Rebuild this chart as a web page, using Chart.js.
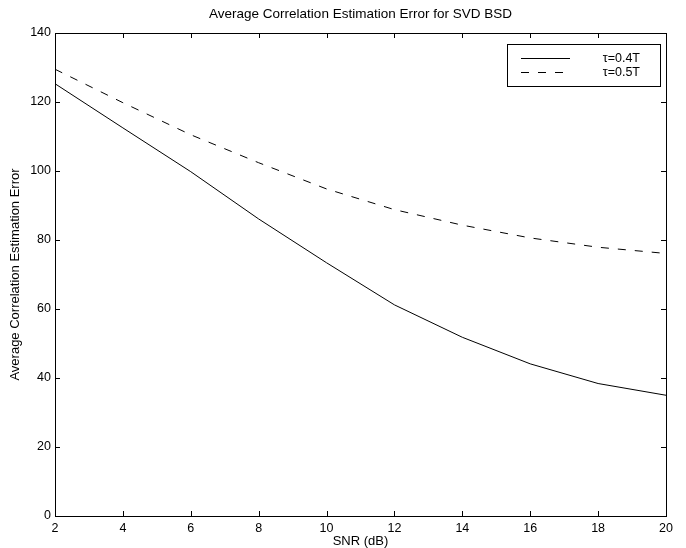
<!DOCTYPE html>
<html>
<head>
<meta charset="utf-8">
<script src="https://cdn.jsdelivr.net/npm/chart.js@4/dist/chart.umd.min.js"></script>
<style>
  html, body { margin: 0; padding: 0; background: #fff; }
  #wrap { width: 686px; height: 548px; }
</style>
</head>
<body>
<div id="wrap"><canvas id="c" width="686" height="548"></canvas></div>
<script>
// ---- Data ----
const snrDb = [2, 4, 6, 8, 10, 12, 14, 16, 18, 20];
const errTau04 = [125.3, 112.5, 99.8, 86.1, 73.4, 61.2, 51.8, 44.1, 38.4, 35.0];
const errTau05 = [129.5, 119.8, 110.5, 102.4, 94.8, 88.8, 84.3, 80.6, 77.9, 76.1];
const seriesLabels = ['\u03c4=0.4T', '\u03c4=0.5T'];
const xTickValues = [2, 4, 6, 8, 10, 12, 14, 16, 18, 20];
const yTickValues = [0, 20, 40, 60, 80, 100, 120, 140];

const FONT = '"Liberation Sans", Arial, Helvetica, sans-serif';

// Box, inward ticks (MATLAB style) and boxed legend
const frameAndLegend = {
  id: 'frameAndLegend',
  afterDraw(chart) {
    const { ctx, chartArea: a, scales } = chart;
    const xs = scales.x, ys = scales.y;
    ctx.save();
    ctx.strokeStyle = '#000';
    ctx.lineWidth = 1;
    // frame
    ctx.strokeRect(Math.round(a.left) + 0.5, Math.round(a.top) + 0.5,
                   Math.round(a.right - a.left), Math.round(a.bottom - a.top));
    // inward ticks
    const tl = 5;
    ctx.beginPath();
    xTickValues.forEach(v => {
      const px = Math.round(xs.getPixelForValue(v)) + 0.5;
      ctx.moveTo(px, a.bottom); ctx.lineTo(px, a.bottom - tl);
      ctx.moveTo(px, a.top); ctx.lineTo(px, a.top + tl);
    });
    yTickValues.forEach(v => {
      const py = Math.round(ys.getPixelForValue(v)) + 0.5;
      ctx.moveTo(a.left, py); ctx.lineTo(a.left + tl, py);
      ctx.moveTo(a.right, py); ctx.lineTo(a.right - tl, py);
    });
    ctx.stroke();

    // legend box inside the plot (upper right)
    const bw = 153, bh = 42;
    const bx = Math.round(a.right) - 6 - bw, by = Math.round(a.top) + 11;
    ctx.fillStyle = '#fff';
    ctx.fillRect(bx, by, bw, bh);
    ctx.strokeRect(bx + 0.5, by + 0.5, bw, bh);
    ctx.font = '12.5px ' + FONT;
    ctx.textAlign = 'right';
    ctx.textBaseline = 'middle';
    chart.data.datasets.forEach((ds, i) => {
      const ly = by + 14 + i * 13.5;
      ctx.save();
      ctx.strokeStyle = ds.borderColor;
      ctx.lineWidth = ds.borderWidth;
      ctx.setLineDash(ds.borderDash || []);
      ctx.beginPath();
      ctx.moveTo(bx + 14, Math.round(ly) + 0.5);
      ctx.lineTo(bx + 63, Math.round(ly) + 0.5);
      ctx.stroke();
      ctx.restore();
      ctx.fillStyle = '#000';
      ctx.fillText(ds.label, bx + bw - 20, ly + 1);
    });
    ctx.restore();
  }
};

new Chart(document.getElementById('c'), {
  type: 'line',
  data: {
    datasets: [
      {
        label: seriesLabels[0],
        data: snrDb.map((x, i) => ({ x, y: errTau04[i] })),
        borderColor: '#000',
        borderWidth: 1,
        pointRadius: 0,
        tension: 0,
        fill: false
      },
      {
        label: seriesLabels[1],
        data: snrDb.map((x, i) => ({ x, y: errTau05[i] })),
        borderColor: '#000',
        borderWidth: 1,
        borderDash: [8, 9],
        pointRadius: 0,
        tension: 0,
        fill: false
      }
    ]
  },
  options: {
    responsive: false,
    animation: false,
    devicePixelRatio: 1,
    layout: { padding: { left: 0, right: 20, top: 0, bottom: 0 } },
    plugins: {
      legend: { display: false },
      tooltip: { enabled: false },
      title: {
        display: true,
        fullSize: false,
        text: 'Average Correlation Estimation Error for SVD BSD',
        color: '#000',
        font: { family: FONT, size: 13.5, weight: 'normal', lineHeight: 1.2 },
        padding: { top: 6, bottom: 10.8 }
      }
    },
    scales: {
      x: {
        type: 'linear',
        min: 2, max: 20,
        afterFit(s) { s.height = 32; },
        afterBuildTicks(s) { s.ticks = xTickValues.map(v => ({ value: v })); },
        grid: { display: false, drawTicks: false },
        border: { display: false },
        ticks: { color: '#000', padding: 5, font: { family: FONT, size: 12.5 }, maxRotation: 0 },
        title: {
          display: true, text: 'SNR (dB)', color: '#000',
          font: { family: FONT, size: 13, lineHeight: 1 },
          padding: { top: 0, bottom: 0 }
        }
      },
      y: {
        type: 'linear',
        min: 0, max: 140,
        afterFit(s) { s.width = 55; },
        afterBuildTicks(s) { s.ticks = yTickValues.map(v => ({ value: v })); },
        grid: { display: false, drawTicks: false },
        border: { display: false },
        ticks: { color: '#000', padding: 4, font: { family: FONT, size: 12.5 } },
        title: {
          display: true, text: 'Average Correlation Estimation Error', color: '#000',
          font: { family: FONT, size: 13, lineHeight: 1 },
          padding: { top: 9, bottom: 0 }
        }
      }
    }
  },
  plugins: [frameAndLegend]
});
</script>
</body>
</html>
